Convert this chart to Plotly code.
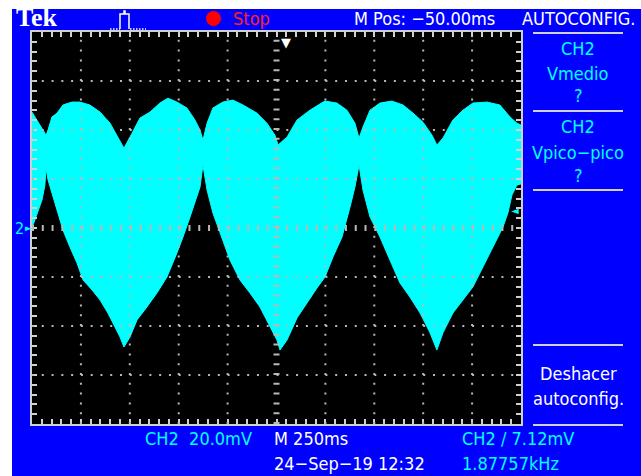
import plotly.graph_objects as go

# ---- CH2 envelope: time (ms, relative to trigger) and voltage (mV) ----
upper_t = [-1300, -1274, -1244, -1228, -1218, -1198, -1172, -1142, -1096, -1055,
           -1004, -952, -901, -860, -830, -799, -748, -697, -646, -605,
           -559, -508, -467, -441, -426, -405, -375, -324, -273, -221,
           -150, -99, -58, -42, 4, 55, 121, 188, 198, 259,
           310, 351, 372, 392, 428, 479, 540, 597, 648, 699,
           745, 770, 801, 852, 903, 954, 1026, 1092, 1144, 1179, 1200]
upper_mv = [47.3, 44.1, 40.0, 37.9, 40.0, 45.3, 46.9, 50.2, 51.4, 51.4,
            50.2, 47.3, 42.8, 37.1, 32.6, 37.1, 44.9, 47.3, 51.0, 53.0,
            51.4, 49.0, 44.1, 40.0, 35.9, 42.8, 49.0, 51.4, 52.2, 50.2,
            46.9, 42.8, 37.9, 33.9, 37.1, 44.1, 48.1, 51.4, 51.8, 51.0,
            48.1, 42.8, 36.7, 41.2, 48.1, 51.0, 51.8, 50.2, 46.9, 43.2,
            37.9, 33.9, 36.7, 44.1, 48.1, 51.0, 51.4, 50.2, 45.3, 42.8, 42.0]

lower_t = [-1300, -1274, -1249, -1234, -1228, -1218, -1193, -1157, -1142, -1106,
           -1070, -1039, -993, -952, -912, -876, -850, -830, -799, -763,
           -712, -661, -610, -559, -528, -492, -467, -441, -426, -405,
           -375, -339, -288, -237, -186, -135, -83, -48, -32, 4,
           55, 106, 157, 198, 239, 285, 326, 351, 372, 392,
           428, 479, 530, 581, 632, 684, 735, 770, 801, 852,
           903, 954, 1006, 1057, 1108, 1133, 1154, 1179, 1200]
lower_mv = [0.0, 6.1, 11.4, 17.5, 24.5, 19.6, 12.6, 3.3, -0.8, -7.8,
            -14.3, -21.2, -25.3, -29.4, -34.7, -40.4, -44.5, -48.6, -44.5, -37.5,
            -32.2, -26.5, -20.0, -10.2, -3.7, 4.5, 10.2, 16.7, 25.7, 15.5,
            6.1, -2.0, -13.1, -21.2, -26.5, -32.2, -40.4, -45.7, -49.8, -45.7,
            -36.7, -30.6, -24.5, -20.0, -11.8, -3.7, 8.6, 16.7, 25.7, 15.5,
            4.5, -3.7, -13.1, -22.4, -28.2, -34.7, -42.8, -49.8, -42.8, -34.7,
            -29.4, -24.1, -15.9, -7.8, 0.4, 6.1, 13.5, 17.5, 18.0]

# ---- scope settings ----
ms_per_div = 250
mv_per_div = 20
trigger_level_mv = 7.12
x_range = [-1300, 1200]          # 10 divisions, M Pos -50 ms at centre
y_range = [-80, 80]              # 8 divisions
x_center = -50
y_center = 0

BLUE = "#0000FF"
CYAN = "#00FFFF"
GRID = "#B8B8B8"
FRAME = "#D0D0D0"
FONT = "Liberation Sans Narrow, DejaVu Sans Condensed, Roboto Condensed, Liberation Sans, sans-serif"

W, H = 641, 476
L, R, T, B = 32, 120, 32, 52
PW, PH = W - L - R, H - T - B


def px(x):
    return (x - L) / PW


def py(y):
    return (H - B - y) / PH


fig = go.Figure()

fig.add_trace(go.Scatter(
    x=upper_t + lower_t[::-1],
    y=upper_mv + lower_mv[::-1],
    mode="lines", fill="toself", fillcolor=CYAN,
    line=dict(color=CYAN, width=1),
    hoverinfo="skip", showlegend=False,
))

# dotted graticule
for k in range(1, 10):
    xv = x_range[0] + k * ms_per_div
    if xv == x_center:
        continue
    fig.add_vline(x=xv, line=dict(color=GRID, width=2, dash="2px,7.8px"), layer="above")
for k in range(1, 8):
    yv = y_range[0] + k * mv_per_div
    if yv == y_center:
        continue
    fig.add_hline(y=yv, line=dict(color=GRID, width=2, dash="2px,7.78px"), layer="above")
# centre cross with fine ticks
fig.add_vline(x=x_center, line=dict(color=GRID, width=6, dash="2px,7.8px"), layer="above")
fig.add_hline(y=y_center, line=dict(color=GRID, width=6, dash="2px,7.78px"), layer="above")

axis_common = dict(showgrid=False, zeroline=False, showline=True, linecolor=FRAME,
                   linewidth=2, mirror="allticks", ticks="inside", ticklen=5,
                   tickwidth=1.5, tickcolor=FRAME, showticklabels=False,
                   layer="above traces", fixedrange=True)
fig.update_xaxes(range=x_range, tick0=x_range[0], dtick=ms_per_div,
                 minor=dict(tick0=x_range[0], dtick=ms_per_div / 5, ticks="inside",
                            ticklen=5, tickwidth=1.5, tickcolor=FRAME),
                 **axis_common)
fig.update_yaxes(range=y_range, tick0=y_range[0], dtick=mv_per_div,
                 minor=dict(tick0=y_range[0], dtick=mv_per_div / 5, ticks="inside",
                            ticklen=5, tickwidth=1.5, tickcolor=FRAME),
                 **axis_common)

shapes = []
# white margin around the screen capture
shapes.append(dict(type="rect", xref="paper", yref="paper", x0=px(0), x1=px(12),
                   y0=py(H), y1=py(0), fillcolor="white", line=dict(width=0), layer="below"))
shapes.append(dict(type="rect", xref="paper", yref="paper", x0=px(0), x1=px(W),
                   y0=py(9), y1=py(0), fillcolor="white", line=dict(width=0), layer="below"))
# menu separators on the right panel
for ys in [33, 111, 190, 345, 425]:
    shapes.append(dict(type="line", xref="paper", yref="paper", x0=px(533), x1=px(623),
                       y0=py(ys), y1=py(ys), line=dict(color=FRAME, width=2)))
# run/stop indicator
shapes.append(dict(type="circle", xref="paper", yref="paper", x0=px(206), x1=px(221),
                   y0=py(26), y1=py(11), fillcolor="#FF0000", line=dict(width=0)))
# acquisition icon
icon = [(120, 29), (120, 14), (124, 14), (124, 11), (125, 11), (125, 14), (129, 14), (129, 29)]
path = "M " + " L ".join(f"{px(a):.5f},{py(b):.5f}" for a, b in icon)
shapes.append(dict(type="path", xref="paper", yref="paper", path=path,
                   line=dict(color="white", width=1.5)))
shapes.append(dict(type="line", xref="paper", yref="paper", x0=px(110), x1=px(120),
                   y0=py(29), y1=py(29), line=dict(color="white", width=1.5, dash="1.5px,1.5px")))
shapes.append(dict(type="line", xref="paper", yref="paper", x0=px(130), x1=px(146),
                   y0=py(29), y1=py(29), line=dict(color="white", width=1.5, dash="1.5px,1.5px")))
fig.update_layout(shapes=list(fig.layout.shapes) + shapes)


def label(text, x, y, color="white", size=18, anchor="left", family=FONT, xref="paper", yref="paper"):
    fig.add_annotation(text=text, x=x, y=y, xref=xref, yref=yref, showarrow=False,
                       xanchor=anchor, yanchor="middle",
                       font=dict(family=family, size=size, color=color))


label("<b>Tek</b>", px(14), py(18), size=26, family="Liberation Serif, DejaVu Serif, serif")
label("Stop", px(231), py(19), color="#FF2020", size=18)
label("M Pos: \u221250.00ms", px(497), py(19), anchor="right")
label("AUTOCONFIG.", px(579), py(19), anchor="center")

cx = px(578)
label("CH2", cx, py(48), color=CYAN, anchor="center")
label("Vmedio", cx, py(73), color=CYAN, anchor="center")
label("?", cx, py(96), color=CYAN, anchor="center")
label("CH2", cx, py(127), color=CYAN, anchor="center")
label("Vpico\u2212pico", cx, py(152), color=CYAN, anchor="center")
label("?", cx, py(175), color=CYAN, anchor="center")
label("Deshacer", cx, py(373), anchor="center")
label("autoconfig.", cx, py(398), anchor="center")

label("CH2\u00a0\u00a020.0mV", px(143), py(438), color=CYAN)
label("M 250ms", px(272), py(438))
label(f"CH2 \u2215 {trigger_level_mv:.2f}mV", px(460), py(438), color=CYAN)
label("24\u2212Sep\u221219 12:32", px(272), py(463))
label("1.87757kHz", px(460), py(463), color=CYAN)

# ground reference, trigger position and trigger level markers
label("2", px(13), y_center, color=CYAN, size=16, yref="y")
label("\u25ba", px(23), y_center, color=CYAN, size=9, yref="y")
fig.add_annotation(text="\u25bc", x=0, y=py(43), xref="x", yref="paper", showarrow=False,
                   xanchor="center", yanchor="middle",
                   font=dict(family="DejaVu Sans", size=13, color="white"))
fig.add_annotation(text="\u25c4", x=x_range[1], y=trigger_level_mv, xref="x", yref="y",
                   showarrow=False, xanchor="right", yanchor="middle",
                   font=dict(family="DejaVu Sans", size=10, color=CYAN))

fig.update_layout(
    width=W, height=H,
    margin=dict(l=L, r=R, t=T, b=B),
    paper_bgcolor=BLUE, plot_bgcolor="black",
    showlegend=False,
)

fig.write_html("out.html")
